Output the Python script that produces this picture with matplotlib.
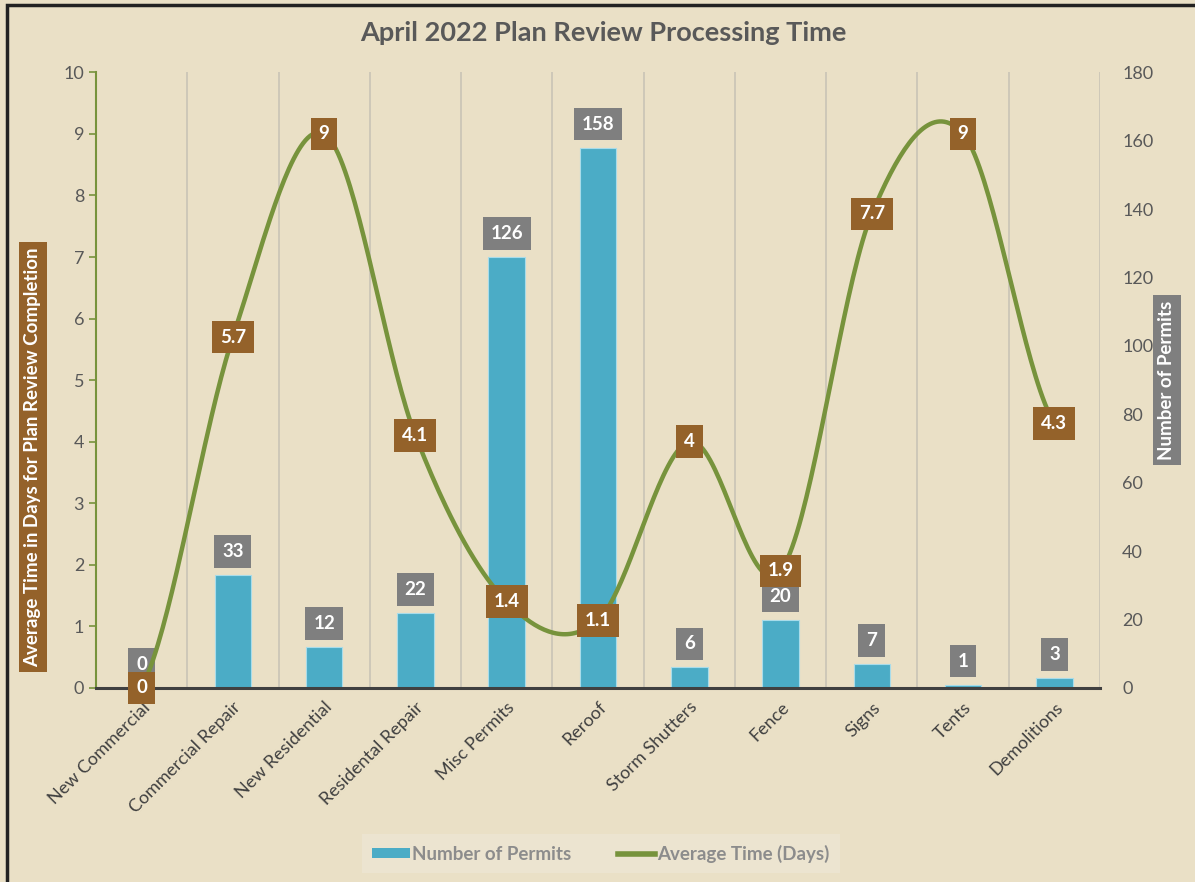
import matplotlib
matplotlib.use("Agg")
from matplotlib import pyplot as plt
from matplotlib.patches import Rectangle, Patch
from matplotlib.lines import Line2D
import numpy as np

categories = ["New Commercial", "Commercial Repair", "New Residential", "Residental Repair",
              "Misc Permits", "Reroof", "Storm Shutters", "Fence", "Signs", "Tents", "Demolitions"]
permits = [0, 33, 12, 22, 126, 158, 6, 20, 7, 1, 3]
avg_days = [0, 5.7, 9, 4.1, 1.4, 1.1, 4, 1.9, 7.7, 9, 4.3]
avg_labels = ["0", "5.7", "9", "4.1", "1.4", "1.1", "4", "1.9", "7.7", "9", "4.3"]

bg = "#EAE0C6"
bar_col = "#4BACC6"
line_col = "#77933C"
brown = "#94622A"
grey_box = "#7F7F7F"
txt = "#595959"

plt.rcParams['font.family'] = ['Lato', 'DejaVu Sans']

fig = plt.figure(figsize=(11.95, 8.82), dpi=100, facecolor=bg)
ax = fig.add_axes([0.0803, 0.22, 0.8402, 0.698])
ax.set_facecolor(bg)
ax2 = ax.twinx()

x = np.arange(len(categories))

# bars on the secondary axis
ax2.bar(x, permits, width=0.4, color=bar_col, edgecolor="#A8DCEA", linewidth=0.8, zorder=2)
ax2.set_ylim(0, 180)
ax2.set_yticks(range(0, 181, 20))
ax2.tick_params(axis='y', length=0, labelsize=13, labelcolor=txt, pad=16)
for s in ax2.spines.values():
    s.set_visible(False)


# smoothed line (Catmull-Rom through the data points, like Excel's smoothing)
def smooth(xs, ys, n=40):
    xs = np.asarray(xs, float)
    ys = np.asarray(ys, float)
    px = np.concatenate([[2 * xs[0] - xs[1]], xs, [2 * xs[-1] - xs[-2]]])
    py = np.concatenate([[ys[0]], ys, [ys[-1]]])
    outx, outy = [], []
    t = np.linspace(0, 1, n)
    h00 = 2 * t**3 - 3 * t**2 + 1
    h10 = t**3 - 2 * t**2 + t
    h01 = -2 * t**3 + 3 * t**2
    h11 = t**3 - t**2
    for i in range(1, len(px) - 2):
        for arr, out in ((px, outx), (py, outy)):
            p0, p1, p2, p3 = arr[i - 1], arr[i], arr[i + 1], arr[i + 2]
            m1 = (p2 - p0) / 2
            m2 = (p3 - p1) / 2
            out.extend(h00 * p1 + h10 * m1 + h01 * p2 + h11 * m2)
    return np.array(outx), np.array(outy)


ax.set_zorder(ax2.get_zorder() + 1)
ax.patch.set_visible(False)

sx, sy = smooth(x, avg_days)
ax.plot(sx, sy, color=line_col, lw=3.2, solid_capstyle='round', zorder=3)

ax.set_xlim(-0.5, 10.5)
ax.set_ylim(0, 10)
ax.set_yticks(range(0, 11))
ax.tick_params(axis='y', colors=line_col, labelcolor=txt, labelsize=13, length=5, width=1.2)
ax.set_xticks(x)
ax.set_xticklabels(categories, rotation=45, ha='right', rotation_mode='anchor',
                   fontsize=13, color="#404040")
ax.tick_params(axis='x', length=0, pad=8)
for s in ["top", "right"]:
    ax.spines[s].set_visible(False)
ax.spines["left"].set_color(line_col)
ax.spines["left"].set_linewidth(1.5)
ax.spines["bottom"].set_color("#404040")
ax.spines["bottom"].set_linewidth(2.2)
ax.spines["bottom"].set_zorder(5)

# vertical gridlines between categories
for b in np.arange(0.5, 11, 1.0):
    ax2.axvline(b, color="#C9C4B6", lw=1.2, zorder=1)

box = dict(boxstyle='square,pad=0.42', ec='none')

# bar value labels (grey boxes)
for xi, v in zip(x, permits):
    ax2.annotate(str(v), (xi, v), xytext=(0, 15), textcoords='offset pixels',
                 ha='center', va='bottom', fontsize=13.5, fontweight='bold', color='white',
                 bbox=dict(box, fc=grey_box), zorder=4)

# line value labels (brown boxes)
for xi, v, lab in zip(x, avg_days, avg_labels):
    ax.text(xi, v, lab, ha='center', va='center', fontsize=13.5, fontweight='bold', color='white',
            bbox=dict(box, fc=brown), zorder=6)

fig.text(0.505, 0.963, "April 2022 Plan Review Processing Time", ha='center', va='center',
         fontsize=19.5, fontweight='bold', color=txt)

fig.text(0.0275, 0.482, "Average Time in Days for Plan Review Completion", rotation=90,
         ha='center', va='center', fontsize=13.5, fontweight='bold', color='white',
         bbox=dict(boxstyle='square,pad=0.3', fc=brown, ec='none'))
fig.text(0.9765, 0.569, "Number of Permits", rotation=90,
         ha='center', va='center', fontsize=13.5, fontweight='bold', color='white',
         bbox=dict(boxstyle='square,pad=0.3', fc=grey_box, ec='none'))

handles = [Patch(fc=bar_col, ec='none'), Line2D([0], [0], color=line_col, lw=4)]
leg = fig.legend(handles, ["Number of Permits", "Average Time (Days)"], loc='center',
                 bbox_to_anchor=(0.503, 0.032), ncol=2, frameon=True, fancybox=False,
                 fontsize=13.5, handlelength=2.0, handleheight=0.5, handletextpad=0.1,
                 columnspacing=2.5, borderpad=0.55)
leg.get_frame().set_facecolor("#EDE6D3")
leg.get_frame().set_edgecolor("none")
for t in leg.get_texts():
    t.set_color("#8C8C8C")
    t.set_fontweight('bold')

fig.patches.append(Rectangle((0.006, -0.02), 1.1, 1.014, transform=fig.transFigure,
                             fill=False, ec="#222222", lw=2.5))

fig.savefig("out.png", dpi=100, facecolor=bg)
